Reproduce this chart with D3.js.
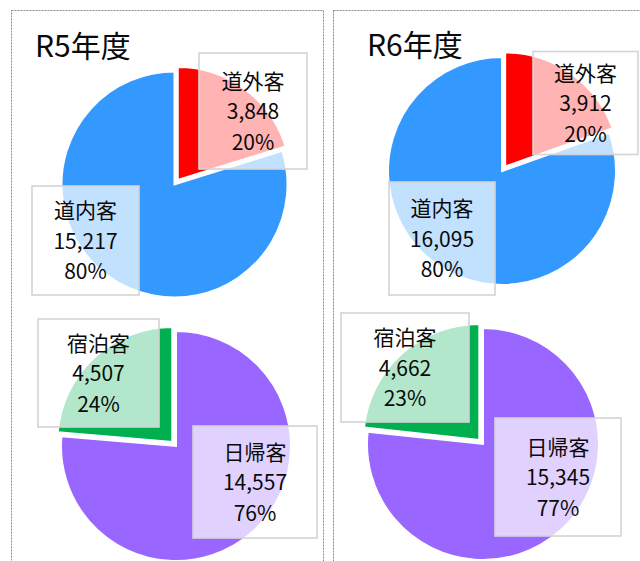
<!DOCTYPE html>
<html>
<head>
<meta charset="utf-8">
<script src="https://cdn.jsdelivr.net/npm/d3@7"></script>
<style>
    body { margin: 0; background: #ffffff; }
    svg { display: block; }
    text { font-family: "Noto Sans CJK JP", "Noto Sans", sans-serif; fill: #0a0a0a; }
</style>
</head>
<body>
<svg id="chart" width="640" height="561"></svg>
<script>
// Data
const years = ["R5年度", "R6年度"];
const originCategories = ["道外客", "道内客"];
const originValues = [[3848, 15217], [3912, 16095]];
const stayCategories = ["日帰客", "宿泊客"];
const stayValues = [[14557, 4507], [15345, 4662]];

// Colours per category
const colors = {
    "道外客": "#ff0000",
    "道内客": "#3399ff",
    "日帰客": "#9966ff",
    "宿泊客": "#00b050"
};
const exploded = ["道外客", "宿泊客"];

// Layout: panel frames, pie centres and label boxes (offset from pie centre, box size)
const panels = [
    {
        x: 11, y: 10, w: 312, h: 560, titleX: 35, titleY: 57,
        pies: [
            { cx: 174.5, cy: 184.5, r: 113, boxes: { "道外客": [78.5, -73.5, 108, 116], "道内客": [-89, 56, 107, 109] } },
            { cx: 176, cy: 446, r: 115, boxes: { "宿泊客": [-77.5, -73, 121, 108], "日帰客": [79, 36, 124, 112] } }
        ]
    },
    {
        x: 333, y: 10, w: 320, h: 560, titleX: 367, titleY: 56,
        pies: [
            { cx: 502, cy: 171, r: 114, boxes: { "道外客": [83.5, -68, 105, 103], "道内客": [-60, 67.5, 106, 113] } },
            { cx: 483, cy: 444, r: 116, boxes: { "宿泊客": [-78, -76.5, 128, 109], "日帰客": [75, 33, 126, 118] } }
        ]
    }
];

const svg = d3.select("#chart");
const fmtNum = d3.format(",");
const fmtPct = d3.format(".0%");
const lineGap = 30.6;
const labelSize = 21;

const pie = d3.pie().sort(null).value(d => d.value);

function drawPie(p, cats, vals) {
    const total = d3.sum(vals);
    const rows = cats.map((c, i) => ({ cat: c, value: vals[i] }));
    const arcs = pie(rows);
    const arc = d3.arc().innerRadius(0).outerRadius(p.r);
    const g = svg.append("g").attr("transform", `translate(${p.cx},${p.cy})`);

    g.selectAll("path")
        .data(arcs)
        .join("path")
        .attr("d", arc)
        .attr("fill", d => colors[d.data.cat])
        .attr("stroke", "#ffffff")
        .attr("stroke-width", 2)
        .attr("transform", d => {
            if (!exploded.includes(d.data.cat)) return null;
            const mid = (d.startAngle + d.endAngle) / 2;
            const off = 5.5;
            return `translate(${off * Math.sin(mid)},${-off * Math.cos(mid)})`;
        });

    // Data labels with semi transparent box, one text block of three lines
    arcs.forEach(d => {
        const b = p.boxes[d.data.cat];
        const lg = g.append("g").attr("transform", `translate(${b[0]},${b[1]})`);
        lg.append("rect")
            .attr("x", -b[2] / 2)
            .attr("y", -b[3] / 2)
            .attr("width", b[2])
            .attr("height", b[3])
            .attr("fill", "#ffffff")
            .attr("fill-opacity", 0.7)
            .attr("stroke", "#d4d4d4")
            .attr("stroke-width", 1.6);
        const lines = [d.data.cat, fmtNum(d.data.value), fmtPct(d.data.value / total)];
        lg.append("text")
            .attr("text-anchor", "middle")
            .style("font-size", labelSize + "px")
            .selectAll("tspan")
            .data(lines)
            .join("tspan")
            .attr("x", 0)
            .attr("y", (t, i) => (i - 1) * lineGap + 0.5 + labelSize * 0.37)
            .text(t => t);
    });
}

panels.forEach((panel, k) => {
    svg.append("rect")
        .attr("x", panel.x + 0.5)
        .attr("y", panel.y + 0.5)
        .attr("width", panel.w)
        .attr("height", panel.h)
        .attr("fill", "none")
        .attr("stroke", "#8a8a8a")
        .attr("stroke-width", 1)
        .attr("stroke-dasharray", "2,1");

    drawPie(panel.pies[0], originCategories, originValues[k]);
    drawPie(panel.pies[1], stayCategories, stayValues[k]);

    svg.append("text")
        .attr("x", panel.titleX)
        .attr("y", panel.titleY)
        .style("font-size", "30px")
        .text(years[k]);
});
</script>
</body>
</html>
